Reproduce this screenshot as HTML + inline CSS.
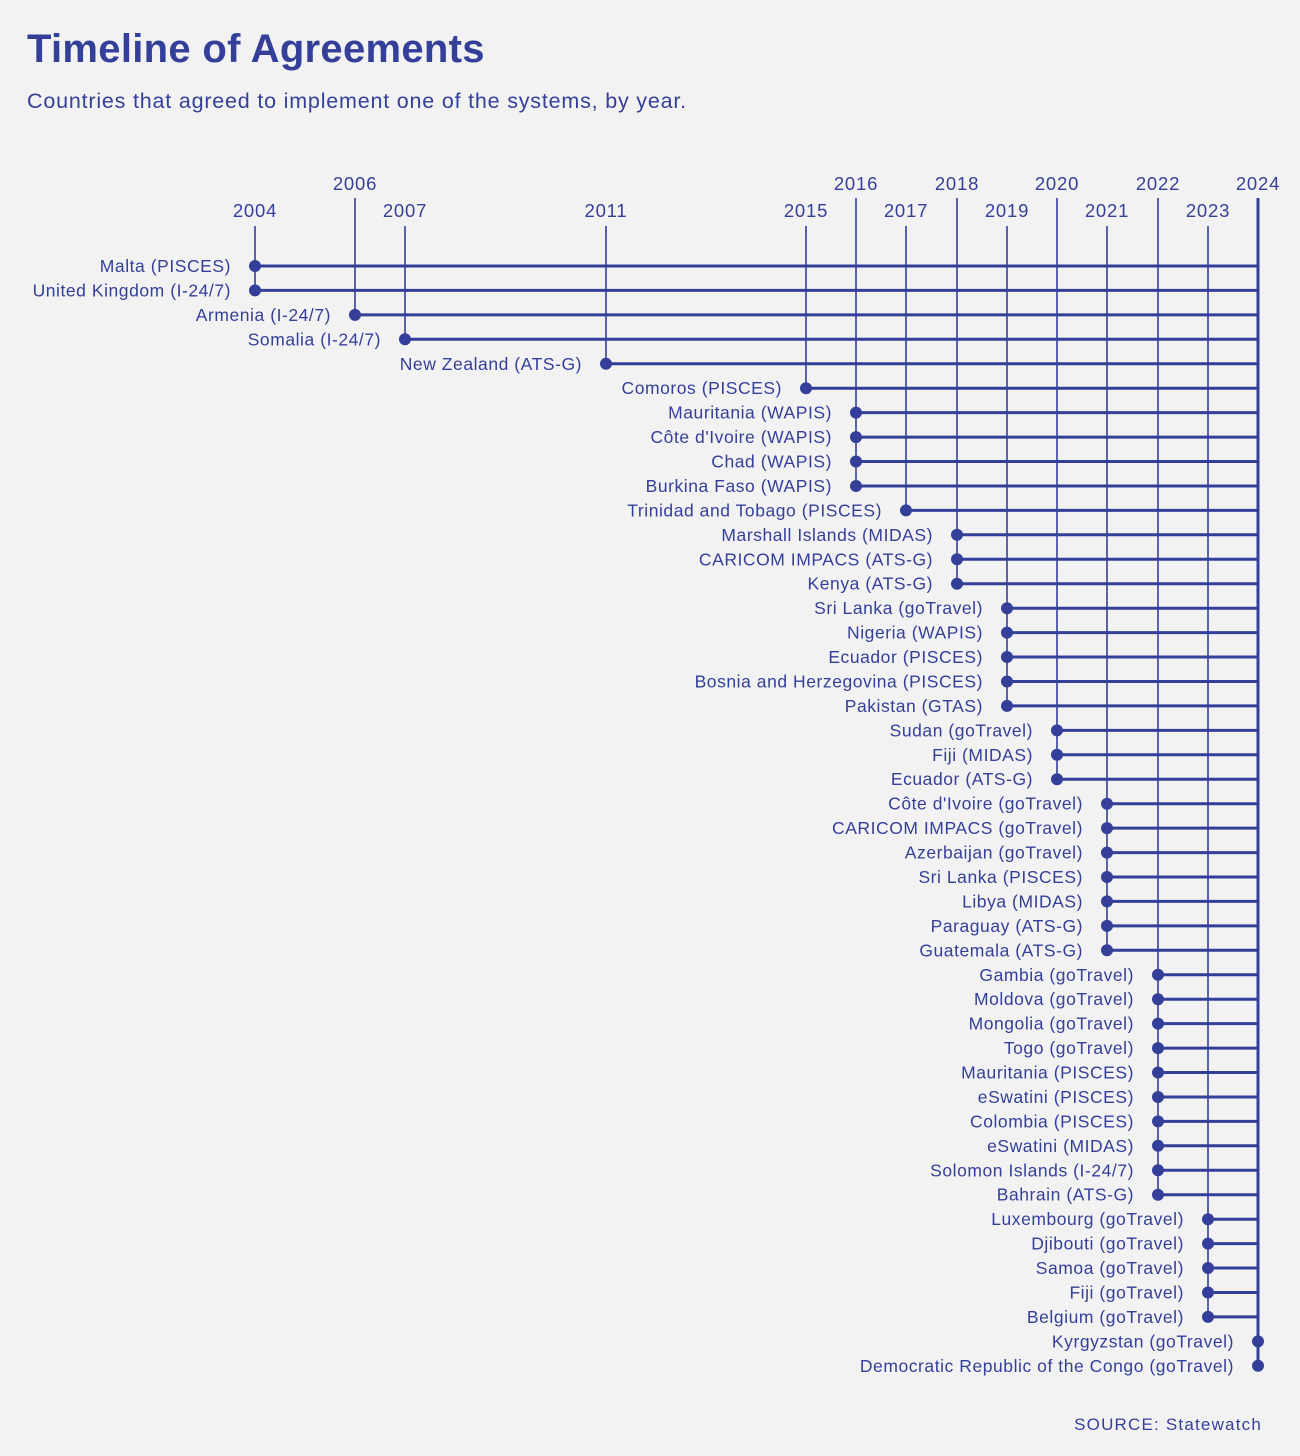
<!DOCTYPE html>
<html><head><meta charset="utf-8"><style>
html,body{margin:0;padding:0;background:#f2f2f2;}
svg{display:block;font-family:"Liberation Sans",sans-serif;}
</style></head><body>
<svg width="1300" height="1456" viewBox="0 0 1300 1456" xmlns="http://www.w3.org/2000/svg">
<rect width="1300" height="1456" fill="#f2f2f2"/>
<g fill="#343f99">
<text x="27" y="62" font-size="40" font-weight="bold" letter-spacing="0.3">Timeline of Agreements</text>
<text x="27" y="108" font-size="21.5" letter-spacing="0.8">Countries that agreed to implement one of the systems, by year.</text>
<text x="1262" y="1430" font-size="17" text-anchor="end" letter-spacing="1.2">SOURCE: Statewatch</text>
<g font-size="18.5" text-anchor="middle" letter-spacing="0.8">
<text x="255" y="217">2004</text><text x="355" y="190">2006</text><text x="405" y="217">2007</text>
<text x="606" y="217">2011</text><text x="806" y="217">2015</text><text x="856" y="190">2016</text>
<text x="906" y="217">2017</text><text x="957" y="190">2018</text><text x="1007" y="217">2019</text>
<text x="1057" y="190">2020</text><text x="1107" y="217">2021</text><text x="1158" y="190">2022</text>
<text x="1208" y="217">2023</text><text x="1258" y="190">2024</text>
</g>
</g>
<g stroke="#343f99" stroke-width="1.6">
<line x1="255" y1="226" x2="255" y2="290"/>
<line x1="355" y1="198" x2="355" y2="315"/>
<line x1="405" y1="226" x2="405" y2="339"/>
<line x1="606" y1="226" x2="606" y2="364"/>
<line x1="806" y1="226" x2="806" y2="388"/>
<line x1="856" y1="198" x2="856" y2="486"/>
<line x1="906" y1="226" x2="906" y2="510"/>
<line x1="957" y1="198" x2="957" y2="584"/>
<line x1="1007" y1="226" x2="1007" y2="706"/>
<line x1="1057" y1="198" x2="1057" y2="779"/>
<line x1="1107" y1="226" x2="1107" y2="950"/>
<line x1="1158" y1="198" x2="1158" y2="1195"/>
<line x1="1208" y1="226" x2="1208" y2="1317"/>
</g>
<line x1="1258" y1="198" x2="1258" y2="1366" stroke="#343f99" stroke-width="3"/>
<g stroke="#343f99" stroke-width="3">
<line x1="255" y1="266" x2="1258" y2="266"/>
<line x1="255" y1="290.4" x2="1258" y2="290.4"/>
<line x1="355" y1="314.9" x2="1258" y2="314.9"/>
<line x1="405" y1="339.3" x2="1258" y2="339.3"/>
<line x1="606" y1="363.8" x2="1258" y2="363.8"/>
<line x1="806" y1="388.2" x2="1258" y2="388.2"/>
<line x1="856" y1="412.6" x2="1258" y2="412.6"/>
<line x1="856" y1="437.1" x2="1258" y2="437.1"/>
<line x1="856" y1="461.5" x2="1258" y2="461.5"/>
<line x1="856" y1="486" x2="1258" y2="486"/>
<line x1="906" y1="510.4" x2="1258" y2="510.4"/>
<line x1="957" y1="534.8" x2="1258" y2="534.8"/>
<line x1="957" y1="559.3" x2="1258" y2="559.3"/>
<line x1="957" y1="583.7" x2="1258" y2="583.7"/>
<line x1="1007" y1="608.2" x2="1258" y2="608.2"/>
<line x1="1007" y1="632.6" x2="1258" y2="632.6"/>
<line x1="1007" y1="657" x2="1258" y2="657"/>
<line x1="1007" y1="681.5" x2="1258" y2="681.5"/>
<line x1="1007" y1="705.9" x2="1258" y2="705.9"/>
<line x1="1057" y1="730.4" x2="1258" y2="730.4"/>
<line x1="1057" y1="754.8" x2="1258" y2="754.8"/>
<line x1="1057" y1="779.2" x2="1258" y2="779.2"/>
<line x1="1107" y1="803.7" x2="1258" y2="803.7"/>
<line x1="1107" y1="828.1" x2="1258" y2="828.1"/>
<line x1="1107" y1="852.6" x2="1258" y2="852.6"/>
<line x1="1107" y1="877" x2="1258" y2="877"/>
<line x1="1107" y1="901.4" x2="1258" y2="901.4"/>
<line x1="1107" y1="925.9" x2="1258" y2="925.9"/>
<line x1="1107" y1="950.3" x2="1258" y2="950.3"/>
<line x1="1158" y1="974.8" x2="1258" y2="974.8"/>
<line x1="1158" y1="999.2" x2="1258" y2="999.2"/>
<line x1="1158" y1="1023.6" x2="1258" y2="1023.6"/>
<line x1="1158" y1="1048.1" x2="1258" y2="1048.1"/>
<line x1="1158" y1="1072.5" x2="1258" y2="1072.5"/>
<line x1="1158" y1="1097" x2="1258" y2="1097"/>
<line x1="1158" y1="1121.4" x2="1258" y2="1121.4"/>
<line x1="1158" y1="1145.8" x2="1258" y2="1145.8"/>
<line x1="1158" y1="1170.3" x2="1258" y2="1170.3"/>
<line x1="1158" y1="1194.7" x2="1258" y2="1194.7"/>
<line x1="1208" y1="1219.2" x2="1258" y2="1219.2"/>
<line x1="1208" y1="1243.6" x2="1258" y2="1243.6"/>
<line x1="1208" y1="1268" x2="1258" y2="1268"/>
<line x1="1208" y1="1292.5" x2="1258" y2="1292.5"/>
<line x1="1208" y1="1316.9" x2="1258" y2="1316.9"/>
</g>
<g fill="#343f99">
<circle cx="255" cy="266" r="6"/><circle cx="255" cy="290.4" r="6"/><circle cx="355" cy="314.9" r="6"/>
<circle cx="405" cy="339.3" r="6"/><circle cx="606" cy="363.8" r="6"/><circle cx="806" cy="388.2" r="6"/>
<circle cx="856" cy="412.6" r="6"/><circle cx="856" cy="437.1" r="6"/><circle cx="856" cy="461.5" r="6"/>
<circle cx="856" cy="486" r="6"/><circle cx="906" cy="510.4" r="6"/><circle cx="957" cy="534.8" r="6"/>
<circle cx="957" cy="559.3" r="6"/><circle cx="957" cy="583.7" r="6"/><circle cx="1007" cy="608.2" r="6"/>
<circle cx="1007" cy="632.6" r="6"/><circle cx="1007" cy="657" r="6"/><circle cx="1007" cy="681.5" r="6"/>
<circle cx="1007" cy="705.9" r="6"/><circle cx="1057" cy="730.4" r="6"/><circle cx="1057" cy="754.8" r="6"/>
<circle cx="1057" cy="779.2" r="6"/><circle cx="1107" cy="803.7" r="6"/><circle cx="1107" cy="828.1" r="6"/>
<circle cx="1107" cy="852.6" r="6"/><circle cx="1107" cy="877" r="6"/><circle cx="1107" cy="901.4" r="6"/>
<circle cx="1107" cy="925.9" r="6"/><circle cx="1107" cy="950.3" r="6"/><circle cx="1158" cy="974.8" r="6"/>
<circle cx="1158" cy="999.2" r="6"/><circle cx="1158" cy="1023.6" r="6"/><circle cx="1158" cy="1048.1" r="6"/>
<circle cx="1158" cy="1072.5" r="6"/><circle cx="1158" cy="1097" r="6"/><circle cx="1158" cy="1121.4" r="6"/>
<circle cx="1158" cy="1145.8" r="6"/><circle cx="1158" cy="1170.3" r="6"/><circle cx="1158" cy="1194.7" r="6"/>
<circle cx="1208" cy="1219.2" r="6"/><circle cx="1208" cy="1243.6" r="6"/><circle cx="1208" cy="1268" r="6"/>
<circle cx="1208" cy="1292.5" r="6"/><circle cx="1208" cy="1316.9" r="6"/><circle cx="1258" cy="1341.4" r="6"/>
<circle cx="1258" cy="1365.8" r="6"/>
</g>
<g fill="#343f99" font-size="17.5" text-anchor="end" letter-spacing="0.55">
<text x="231" y="272">Malta (PISCES)</text>
<text x="231" y="296.4">United Kingdom (I-24/7)</text>
<text x="331" y="320.9">Armenia (I-24/7)</text>
<text x="381" y="345.3">Somalia (I-24/7)</text>
<text x="582" y="369.8">New Zealand (ATS-G)</text>
<text x="782" y="394.2">Comoros (PISCES)</text>
<text x="832" y="418.6">Mauritania (WAPIS)</text>
<text x="832" y="443.1">Côte d'Ivoire (WAPIS)</text>
<text x="832" y="467.5">Chad (WAPIS)</text>
<text x="832" y="492">Burkina Faso (WAPIS)</text>
<text x="882" y="516.4">Trinidad and Tobago (PISCES)</text>
<text x="933" y="540.8">Marshall Islands (MIDAS)</text>
<text x="933" y="565.3">CARICOM IMPACS (ATS-G)</text>
<text x="933" y="589.7">Kenya (ATS-G)</text>
<text x="983" y="614.2">Sri Lanka (goTravel)</text>
<text x="983" y="638.6">Nigeria (WAPIS)</text>
<text x="983" y="663">Ecuador (PISCES)</text>
<text x="983" y="687.5">Bosnia and Herzegovina (PISCES)</text>
<text x="983" y="711.9">Pakistan (GTAS)</text>
<text x="1033" y="736.4">Sudan (goTravel)</text>
<text x="1033" y="760.8">Fiji (MIDAS)</text>
<text x="1033" y="785.2">Ecuador (ATS-G)</text>
<text x="1083" y="809.7">Côte d'Ivoire (goTravel)</text>
<text x="1083" y="834.1">CARICOM IMPACS (goTravel)</text>
<text x="1083" y="858.6">Azerbaijan (goTravel)</text>
<text x="1083" y="883">Sri Lanka (PISCES)</text>
<text x="1083" y="907.4">Libya (MIDAS)</text>
<text x="1083" y="931.9">Paraguay (ATS-G)</text>
<text x="1083" y="956.3">Guatemala (ATS-G)</text>
<text x="1134" y="980.8">Gambia (goTravel)</text>
<text x="1134" y="1005.2">Moldova (goTravel)</text>
<text x="1134" y="1029.6">Mongolia (goTravel)</text>
<text x="1134" y="1054.1">Togo (goTravel)</text>
<text x="1134" y="1078.5">Mauritania (PISCES)</text>
<text x="1134" y="1103">eSwatini (PISCES)</text>
<text x="1134" y="1127.4">Colombia (PISCES)</text>
<text x="1134" y="1151.8">eSwatini (MIDAS)</text>
<text x="1134" y="1176.3">Solomon Islands (I-24/7)</text>
<text x="1134" y="1200.7">Bahrain (ATS-G)</text>
<text x="1184" y="1225.2">Luxembourg (goTravel)</text>
<text x="1184" y="1249.6">Djibouti (goTravel)</text>
<text x="1184" y="1274">Samoa (goTravel)</text>
<text x="1184" y="1298.5">Fiji (goTravel)</text>
<text x="1184" y="1322.9">Belgium (goTravel)</text>
<text x="1234" y="1347.4">Kyrgyzstan (goTravel)</text>
<text x="1234" y="1371.8">Democratic Republic of the Congo (goTravel)</text>
</g>
</svg>
</body></html>
